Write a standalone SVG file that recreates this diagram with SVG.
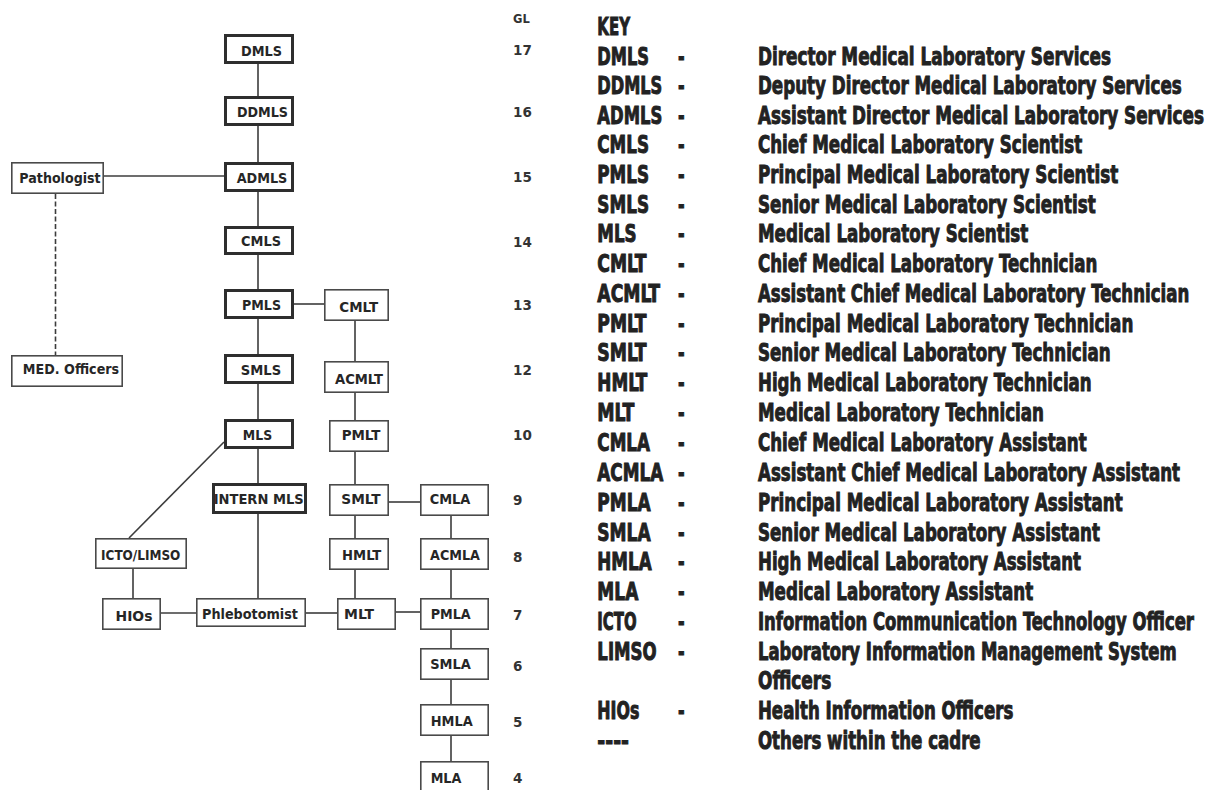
<svg xmlns="http://www.w3.org/2000/svg" width="1216" height="790" viewBox="0 0 1216 790">
<style>
  .bg { fill: #ffffff; }
  .thick { fill: #ffffff; stroke: #2e2e2e; stroke-width: 3; }
  .thin { fill: #ffffff; stroke: #4a4a4a; stroke-width: 1.6; }
  .lbl { font-family: "DejaVu Sans", Verdana, sans-serif; font-weight: bold; font-size: 14.5px; fill: #262626; text-anchor: middle; }
  .gl { font-family: "DejaVu Sans", Verdana, sans-serif; font-weight: bold; font-size: 13.5px; fill: #333333; }
  .key { font-family: "DejaVu Sans Condensed", "Liberation Sans Narrow", "Liberation Sans", sans-serif; font-weight: bold; font-size: 24px; fill: #222222; stroke: #222222; stroke-width: 0.9; }
  .conn line { stroke: #3c3c3c; stroke-width: 1.6; fill: none; }
  .conn .dash { stroke-dasharray: 5 2.5; }
</style>
<rect class="bg" x="0" y="0" width="1216" height="790"/>

<g id="connectors" class="conn">
  <line x1="258" y1="64" x2="258" y2="96"/>
  <line x1="258" y1="126" x2="258" y2="162"/>
  <line x1="258" y1="192" x2="258" y2="226"/>
  <line x1="258" y1="255" x2="258" y2="289"/>
  <line x1="258" y1="319" x2="258" y2="354"/>
  <line x1="258" y1="384" x2="258" y2="419"/>
  <line x1="258" y1="449" x2="258" y2="483"/>
  <line x1="258" y1="514" x2="258" y2="598"/>
  <line x1="104" y1="176" x2="224" y2="176"/>
  <line class="dash" x1="55.5" y1="194" x2="55.5" y2="355"/>
  <line x1="294" y1="304" x2="324" y2="304"/>
  <line x1="355" y1="321" x2="355" y2="361"/>
  <line x1="355" y1="393" x2="355" y2="420"/>
  <line x1="355" y1="452" x2="355" y2="484"/>
  <line x1="355" y1="516" x2="355" y2="538"/>
  <line x1="355" y1="570" x2="355" y2="598"/>
  <line x1="389" y1="502" x2="420" y2="502"/>
  <line x1="451" y1="516" x2="451" y2="538"/>
  <line x1="451" y1="570" x2="451" y2="598"/>
  <line x1="451" y1="630" x2="451" y2="648"/>
  <line x1="451" y1="680" x2="451" y2="704"/>
  <line x1="451" y1="736" x2="451" y2="761"/>
  <line x1="396" y1="612" x2="420" y2="612"/>
  <line x1="306" y1="613" x2="337" y2="613"/>
  <line x1="161" y1="613" x2="196" y2="613"/>
  <line x1="133" y1="569" x2="133" y2="598"/>
  <line x1="224" y1="442" x2="129" y2="538"/>
</g>

<g id="node-dmls"><rect class="thick" x="225.5" y="35.5" width="67" height="27"/><text class="lbl" x="261.5" y="55.5" textLength="41" lengthAdjust="spacingAndGlyphs">DMLS</text></g>
<g id="node-ddmls"><rect class="thick" x="225.5" y="97.5" width="67" height="27"/><text class="lbl" x="262.5" y="116.5" textLength="51" lengthAdjust="spacingAndGlyphs">DDMLS</text></g>
<g id="node-admls"><rect class="thick" x="225.5" y="163.5" width="67" height="27"/><text class="lbl" x="262" y="182.5" textLength="50.7" lengthAdjust="spacingAndGlyphs">ADMLS</text></g>
<g id="node-cmls"><rect class="thick" x="225.5" y="227.5" width="67" height="26"/><text class="lbl" x="261" y="246" textLength="40" lengthAdjust="spacingAndGlyphs">CMLS</text></g>
<g id="node-pmls"><rect class="thick" x="225.5" y="290.5" width="67" height="27"/><text class="lbl" x="261.5" y="310" textLength="39" lengthAdjust="spacingAndGlyphs">PMLS</text></g>
<g id="node-smls"><rect class="thick" x="225.5" y="355.5" width="67" height="27"/><text class="lbl" x="261" y="374.5" textLength="40.3" lengthAdjust="spacingAndGlyphs">SMLS</text></g>
<g id="node-mls"><rect class="thick" x="225.5" y="420.5" width="67" height="27"/><text class="lbl" x="257.5" y="439.5" textLength="29.3" lengthAdjust="spacingAndGlyphs">MLS</text></g>
<g id="node-intern-mls"><rect class="thick" x="213.5" y="484.5" width="92" height="28"/><text class="lbl" x="258.7" y="504" textLength="90" lengthAdjust="spacingAndGlyphs">INTERN MLS</text></g>

<g id="node-pathologist"><rect class="thin" x="11.8" y="162.8" width="91.4" height="30.4"/><text class="lbl" x="60" y="183" textLength="81.3" lengthAdjust="spacingAndGlyphs">Pathologist</text></g>
<g id="node-med-officers"><rect class="thin" x="11.8" y="355.8" width="110.4" height="30.4"/><text class="lbl" x="71" y="374" textLength="96.3" lengthAdjust="spacingAndGlyphs">MED. Officers</text></g>
<g id="node-icto-limso"><rect class="thin" x="95.8" y="538.8" width="90.4" height="29.4"/><text class="lbl" x="140.7" y="559.5" textLength="79.3" lengthAdjust="spacingAndGlyphs">ICTO/LIMSO</text></g>
<g id="node-hios"><rect class="thin" x="102.8" y="598.8" width="57.4" height="30.4"/><text class="lbl" x="134" y="620.5" textLength="37" lengthAdjust="spacingAndGlyphs">HIOs</text></g>
<g id="node-phlebotomist"><rect class="thin" x="196.8" y="598.8" width="108.4" height="27.4"/><text class="lbl" x="250" y="619" textLength="96" lengthAdjust="spacingAndGlyphs">Phlebotomist</text></g>

<g id="node-cmlt"><rect class="thin" x="324.8" y="289.8" width="63.4" height="30.4"/><text class="lbl" x="358.7" y="312" textLength="38.7" lengthAdjust="spacingAndGlyphs">CMLT</text></g>
<g id="node-acmlt"><rect class="thin" x="324.8" y="361.8" width="63.4" height="30.4"/><text class="lbl" x="359" y="384" textLength="48" lengthAdjust="spacingAndGlyphs">ACMLT</text></g>
<g id="node-pmlt"><rect class="thin" x="329.8" y="420.8" width="58.4" height="30.4"/><text class="lbl" x="361" y="439.5" textLength="38.7" lengthAdjust="spacingAndGlyphs">PMLT</text></g>
<g id="node-smlt"><rect class="thin" x="329.8" y="484.8" width="58.4" height="30.4"/><text class="lbl" x="361" y="504" textLength="39.3" lengthAdjust="spacingAndGlyphs">SMLT</text></g>
<g id="node-hmlt"><rect class="thin" x="329.8" y="538.8" width="58.4" height="30.4"/><text class="lbl" x="361.7" y="560" textLength="39.3" lengthAdjust="spacingAndGlyphs">HMLT</text></g>
<g id="node-mlt"><rect class="thin" x="337.8" y="598.8" width="57.4" height="30.4"/><text class="lbl" x="359" y="619" textLength="30" lengthAdjust="spacingAndGlyphs">MLT</text></g>

<g id="node-cmla"><rect class="thin" x="420.8" y="484.8" width="67.4" height="30.4"/><text class="lbl" x="450" y="504" textLength="40.7" lengthAdjust="spacingAndGlyphs">CMLA</text></g>
<g id="node-acmla"><rect class="thin" x="420.8" y="538.8" width="67.4" height="30.4"/><text class="lbl" x="455" y="560" textLength="50" lengthAdjust="spacingAndGlyphs">ACMLA</text></g>
<g id="node-pmla"><rect class="thin" x="420.8" y="598.8" width="67.4" height="30.4"/><text class="lbl" x="450.7" y="619" textLength="40" lengthAdjust="spacingAndGlyphs">PMLA</text></g>
<g id="node-smla"><rect class="thin" x="420.8" y="648.8" width="67.4" height="30.4"/><text class="lbl" x="450.5" y="668.5" textLength="40.7" lengthAdjust="spacingAndGlyphs">SMLA</text></g>
<g id="node-hmla"><rect class="thin" x="420.8" y="704.8" width="67.4" height="30.4"/><text class="lbl" x="451.7" y="726" textLength="42" lengthAdjust="spacingAndGlyphs">HMLA</text></g>
<g id="node-mla"><rect class="thin" x="420.8" y="761.8" width="67.4" height="34"/><text class="lbl" x="446" y="782.5" textLength="30.7" lengthAdjust="spacingAndGlyphs">MLA</text></g>

<g id="grade-levels" class="gl">
  <text x="513" y="23" font-size="11.5">GL</text>
  <text x="513" y="55">17</text>
  <text x="513" y="116.7">16</text>
  <text x="513" y="181.7">15</text>
  <text x="513" y="246.7">14</text>
  <text x="513" y="310">13</text>
  <text x="513" y="375">12</text>
  <text x="513" y="440">10</text>
  <text x="513" y="505">9</text>
  <text x="513" y="561.7">8</text>
  <text x="513" y="620">7</text>
  <text x="513" y="670.7">6</text>
  <text x="513" y="726.7">5</text>
  <text x="513" y="783.3">4</text>
</g>

<g id="key" class="key" transform="scale(0.74,1)">
  <text x="807.2" y="35" textLength="44.2" lengthAdjust="spacingAndGlyphs">KEY</text>

  <text x="807.2" y="65" textLength="69.9" lengthAdjust="spacingAndGlyphs">DMLS</text>
  <text x="916.2" y="65">-</text>
  <text x="1024.3" y="65" textLength="477" lengthAdjust="spacingAndGlyphs">Director Medical Laboratory Services</text>

  <text x="807.2" y="94.5" textLength="87.8" lengthAdjust="spacingAndGlyphs">DDMLS</text>
  <text x="916.2" y="94.5">-</text>
  <text x="1024.3" y="94.5" textLength="572.6" lengthAdjust="spacingAndGlyphs">Deputy Director Medical Laboratory Services</text>

  <text x="807.2" y="124" textLength="87.8" lengthAdjust="spacingAndGlyphs">ADMLS</text>
  <text x="916.2" y="124">-</text>
  <text x="1024.3" y="124" textLength="602.7" lengthAdjust="spacingAndGlyphs">Assistant Director Medical Laboratory Services</text>

  <text x="807.2" y="153.5" textLength="69.9" lengthAdjust="spacingAndGlyphs">CMLS</text>
  <text x="916.2" y="153.5">-</text>
  <text x="1024.3" y="153.5" textLength="438.2" lengthAdjust="spacingAndGlyphs">Chief Medical Laboratory Scientist</text>

  <text x="807.2" y="183.3" textLength="69.9" lengthAdjust="spacingAndGlyphs">PMLS</text>
  <text x="916.2" y="183.3">-</text>
  <text x="1024.3" y="183.3" textLength="486.9" lengthAdjust="spacingAndGlyphs">Principal Medical Laboratory Scientist</text>

  <text x="807.2" y="212.8" textLength="69.9" lengthAdjust="spacingAndGlyphs">SMLS</text>
  <text x="916.2" y="212.8">-</text>
  <text x="1024.3" y="212.8" textLength="456.4" lengthAdjust="spacingAndGlyphs">Senior Medical Laboratory Scientist</text>

  <text x="807.2" y="242.5" textLength="53.1" lengthAdjust="spacingAndGlyphs">MLS</text>
  <text x="916.2" y="242.5">-</text>
  <text x="1024.3" y="242.5" textLength="365.3" lengthAdjust="spacingAndGlyphs">Medical Laboratory Scientist</text>

  <text x="807.2" y="272.3" textLength="66.6" lengthAdjust="spacingAndGlyphs">CMLT</text>
  <text x="916.2" y="272.3">-</text>
  <text x="1024.3" y="272.3" textLength="458.5" lengthAdjust="spacingAndGlyphs">Chief Medical Laboratory Technician</text>

  <text x="807.2" y="302" textLength="84.7" lengthAdjust="spacingAndGlyphs">ACMLT</text>
  <text x="916.2" y="302">-</text>
  <text x="1024.3" y="302" textLength="582.8" lengthAdjust="spacingAndGlyphs">Assistant Chief Medical Laboratory Technician</text>

  <text x="807.2" y="331.8" textLength="66.6" lengthAdjust="spacingAndGlyphs">PMLT</text>
  <text x="916.2" y="331.8">-</text>
  <text x="1024.3" y="331.8" textLength="507.2" lengthAdjust="spacingAndGlyphs">Principal Medical Laboratory Technician</text>

  <text x="807.2" y="361.5" textLength="66.6" lengthAdjust="spacingAndGlyphs">SMLT</text>
  <text x="916.2" y="361.5">-</text>
  <text x="1024.3" y="361.5" textLength="476.6" lengthAdjust="spacingAndGlyphs">Senior Medical Laboratory Technician</text>

  <text x="807.2" y="391.3" textLength="67.6" lengthAdjust="spacingAndGlyphs">HMLT</text>
  <text x="916.2" y="391.3">-</text>
  <text x="1024.3" y="391.3" textLength="450.9" lengthAdjust="spacingAndGlyphs">High Medical Laboratory Technician</text>

  <text x="807.2" y="421.5" textLength="50" lengthAdjust="spacingAndGlyphs">MLT</text>
  <text x="916.2" y="421.5">-</text>
  <text x="1024.3" y="421.5" textLength="386.5" lengthAdjust="spacingAndGlyphs">Medical Laboratory Technician</text>

  <text x="807.2" y="450.8" textLength="71.2" lengthAdjust="spacingAndGlyphs">CMLA</text>
  <text x="916.2" y="450.8">-</text>
  <text x="1024.3" y="450.8" textLength="444.2" lengthAdjust="spacingAndGlyphs">Chief Medical Laboratory Assistant</text>

  <text x="807.2" y="480.7" textLength="89.2" lengthAdjust="spacingAndGlyphs">ACMLA</text>
  <text x="916.2" y="480.7">-</text>
  <text x="1024.3" y="480.7" textLength="570.3" lengthAdjust="spacingAndGlyphs">Assistant Chief Medical Laboratory Assistant</text>

  <text x="807.2" y="511" textLength="72" lengthAdjust="spacingAndGlyphs">PMLA</text>
  <text x="916.2" y="511">-</text>
  <text x="1024.3" y="511" textLength="492.8" lengthAdjust="spacingAndGlyphs">Principal Medical Laboratory Assistant</text>

  <text x="807.2" y="540.7" textLength="72" lengthAdjust="spacingAndGlyphs">SMLA</text>
  <text x="916.2" y="540.7">-</text>
  <text x="1024.3" y="540.7" textLength="462.2" lengthAdjust="spacingAndGlyphs">Senior Medical Laboratory Assistant</text>

  <text x="807.2" y="570.5" textLength="73.4" lengthAdjust="spacingAndGlyphs">HMLA</text>
  <text x="916.2" y="570.5">-</text>
  <text x="1024.3" y="570.5" textLength="436.5" lengthAdjust="spacingAndGlyphs">High Medical Laboratory Assistant</text>

  <text x="807.2" y="600.2" textLength="55.4" lengthAdjust="spacingAndGlyphs">MLA</text>
  <text x="916.2" y="600.2">-</text>
  <text x="1024.3" y="600.2" textLength="372" lengthAdjust="spacingAndGlyphs">Medical Laboratory Assistant</text>

  <text x="807.2" y="630" textLength="53.1" lengthAdjust="spacingAndGlyphs">ICTO</text>
  <text x="916.2" y="630">-</text>
  <text x="1024.3" y="630" textLength="589.2" lengthAdjust="spacingAndGlyphs">Information Communication Technology Officer</text>

  <text x="807.2" y="659.8" textLength="80.1" lengthAdjust="spacingAndGlyphs">LIMSO</text>
  <text x="916.2" y="659.8">-</text>
  <text x="1024.3" y="659.8" textLength="565.8" lengthAdjust="spacingAndGlyphs">Laboratory Information Management System</text>
  <text x="1024.3" y="689.5" textLength="99.1" lengthAdjust="spacingAndGlyphs">Officers</text>

  <text x="807.2" y="719.5" textLength="56.8" lengthAdjust="spacingAndGlyphs">HIOs</text>
  <text x="916.2" y="719.5">-</text>
  <text x="1024.3" y="719.5" textLength="345" lengthAdjust="spacingAndGlyphs">Health Information Officers</text>

  <text x="807.2" y="749.3" textLength="42.8" lengthAdjust="spacingAndGlyphs">----</text>
  <text x="1024.3" y="749.3" textLength="300.9" lengthAdjust="spacingAndGlyphs">Others within the cadre</text>
</g>
</svg>
